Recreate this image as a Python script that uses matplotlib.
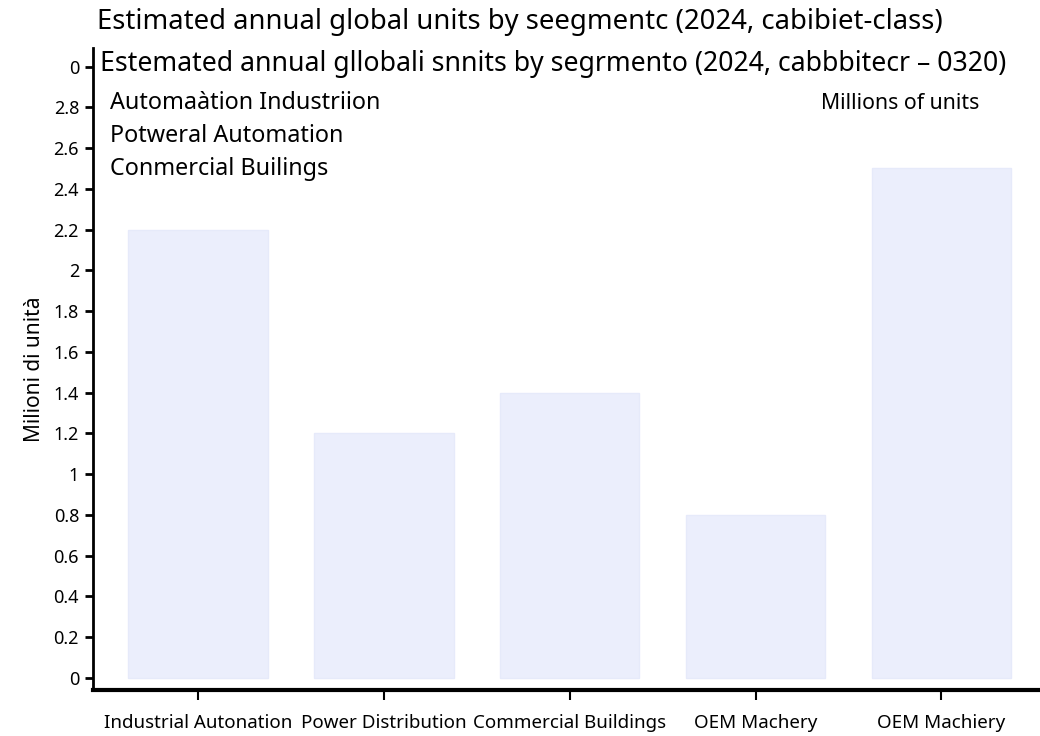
import matplotlib
matplotlib.use("Agg")
import matplotlib.pyplot as plt

plt.rcParams["font.family"] = ["Noto Sans", "DejaVu Sans"]

SEGMENTI = ["Industrial Autonation", "Power Distribution", "Commercial Buildings",
            "OEM Machery", "OEM Machiery"]
VALORI = [2.2, 1.2, 1.4, 0.8, 2.5]
Y_TICKS = [0, 0.2, 0.4, 0.6, 0.8, 1.0, 1.2, 1.4, 1.6, 1.8, 2.0, 2.2, 2.4, 2.6, 2.8, 3.0]
Y_LABELS = ["0", "0.2", "0.4", "0.6", "0.8", "1", "1.2", "1.4", "1.6", "1.8",
            "2", "2.2", "2.4", "2.6", "2.8", "0"]
LEGENDA = ["Automaàtion Industriion", "Potweral Automation", "Conmercial Builings"]

TITOLO = "Estimated annual global units by seegmentc (2024, cabibiet-class)"
TITOLO_2 = "Estemated annual gllobali snnits by segrmento (2024, cabbbitecr \u2013 0320)"

fig = plt.figure(figsize=(10.4, 7.36), dpi=100)
ax = fig.add_axes([0.0894, 0.0625, 0.9106, 0.872])

x = list(range(len(SEGMENTI)))
ax.bar(x, VALORI, width=0.75, color="#EBEEFC", edgecolor="#E6EAFA", linewidth=1)

ax.set_xlim(-0.565, 4.53)
ax.set_ylim(-0.059, 3.09)
ax.set_xticks(x)
ax.set_xticklabels(SEGMENTI, fontsize=13.5)
ax.set_yticks(Y_TICKS)
ax.set_yticklabels(Y_LABELS, fontsize=13)
ax.tick_params(axis="y", length=6, width=2, pad=4)
ax.tick_params(axis="x", length=7, width=1.5, pad=10)

for s in ["top", "right"]:
    ax.spines[s].set_visible(False)
ax.spines["left"].set_linewidth(2)
ax.spines["bottom"].set_linewidth(3)

ax.set_ylabel("Milioni di unità", fontsize=15, labelpad=6)

fig.text(0.5, 0.97, TITOLO, ha="center", va="center", fontsize=19.8)
fig.text(0.096, 0.913, TITOLO_2, ha="left", va="center", fontsize=19.2)

for i, riga in enumerate(LEGENDA):
    fig.text(0.106, 0.860 - i * 0.0445, riga, ha="left", va="center", fontsize=16.8)

fig.text(0.866, 0.860, "Millions of units", ha="center", va="center", fontsize=15.3)

fig.savefig("out.png", dpi=100)
